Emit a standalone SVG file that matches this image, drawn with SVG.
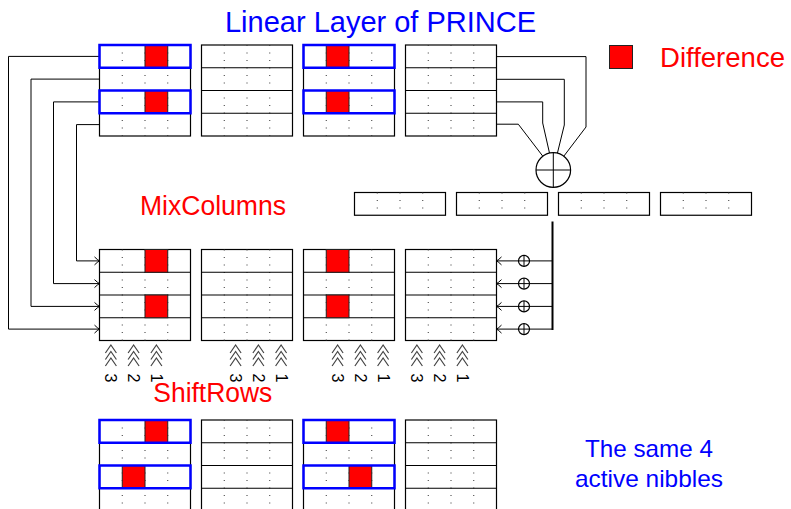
<svg xmlns="http://www.w3.org/2000/svg" xmlns:xlink="http://www.w3.org/1999/xlink" width="791" height="509" viewBox="0 0 791 509">
  <style>
    .cell { fill: #fff; stroke: #000; stroke-width: 1.2; }
    .rowline { fill: none; stroke: #000; stroke-width: 1.2; }
    .dot { fill: none; stroke: #333; stroke-width: 1; stroke-dasharray: 1 6.5; }
    .diff { fill: #ff0000; stroke: #222; stroke-width: 1; }
    .active { fill: none; stroke: #0000ff; stroke-width: 2.5; }
    .wire { fill: none; stroke: #000; stroke-width: 1; }
    .bus { fill: none; stroke: #000; stroke-width: 2; }
    .xor { fill: #fff; stroke: #000; stroke-width: 1.2; }
    .shift { fill: none; stroke: #444; stroke-width: 1.2; }
    .num { font-family: "Liberation Sans", Arial, sans-serif; font-size: 16px; fill: #000; }
    .red { font-family: "Liberation Sans", Arial, sans-serif; fill: #ff0000; }
    .blue { font-family: "Liberation Sans", Arial, sans-serif; fill: #0000ff; }
  </style>
  <defs>
    <!-- 4x4 nibble state: four rows, dotted column separators -->
    <g id="grid">
      <rect class="cell" x="0" y="0" width="91" height="91"/>
      <path class="dot" d="M22.75,0V91M45.5,0V91M68.25,0V91"/>
      <path class="rowline" d="M0,22.75H91M0,45.5H91M0,68.25H91"/>
    </g>
    <!-- one 16-bit row word -->
    <g id="word">
      <rect class="cell" x="0" y="0" width="91" height="22.75"/>
      <path class="dot" d="M22.75,0V22.75M45.5,0V22.75M68.25,0V22.75"/>
    </g>
    <!-- rotation marker: three stacked chevrons -->
    <g id="chev">
      <path class="shift" d="M-5.5,8 L0,0 L5.5,8M-5.5,14.5 L0,6.5 L5.5,14.5M-5.5,21 L0,13 L5.5,21"/>
    </g>
    <g id="sxor">
      <circle class="xor" cx="0" cy="0" r="5.5"/>
      <path class="wire" d="M-5.5,0H5.5M0,-5.5V5.5"/>
    </g>
    <marker id="arr" viewBox="-7 -5 9 10" refX="0" refY="0" markerWidth="9" markerHeight="10" markerUnits="userSpaceOnUse" orient="auto">
      <path d="M-5,-4 Q-2,-1 0,0 Q-2,1 -5,4" fill="none" stroke="#000" stroke-width="1"/>
    </marker>
  </defs>

  <!-- titles and legend -->
  <text class="blue" x="225" y="31.7" font-size="29" textLength="311" lengthAdjust="spacingAndGlyphs">Linear Layer of PRINCE</text>
  <g id="legend">
    <rect class="diff" x="609.5" y="45.5" width="23" height="23"/>
    <text class="red" x="660" y="67.3" font-size="28" textLength="125" lengthAdjust="spacingAndGlyphs">Difference</text>
  </g>
  <text class="red" x="140" y="214.7" font-size="27" textLength="146" lengthAdjust="spacingAndGlyphs">MixColumns</text>

  <!-- connectors -->
  <g id="connectors">
    <!-- reversed row wiring on the left -->
    <path class="wire" marker-end="url(#arr)" d="M99.5,56.4H8.5V329.1H99.5"/>
    <path class="wire" marker-end="url(#arr)" d="M99.5,79.1H31V306.4H99.5"/>
    <path class="wire" marker-end="url(#arr)" d="M99.5,101.9H53.5V283.6H99.5"/>
    <path class="wire" marker-end="url(#arr)" d="M99.5,124.6H76.5V260.9H99.5"/>
    <!-- rows of the last column into the big XOR -->
    <path class="wire" d="M496.5,56.6H586V127L563.8,156.2"/>
    <path class="wire" d="M496.5,79.3H564.3V125L557.4,153.2"/>
    <path class="wire" d="M496.5,101.9H542.7V123L549.5,153.1"/>
    <path class="wire" d="M496.5,124.2H518.3L542.8,156.2"/>
    <!-- feedback bus to the last column -->
    <path class="bus" d="M552.5,221.5V330"/>
    <path class="wire" marker-end="url(#arr)" d="M552.5,260.9H496.5"/>
    <path class="wire" marker-end="url(#arr)" d="M552.5,283.6H496.5"/>
    <path class="wire" marker-end="url(#arr)" d="M552.5,306.4H496.5"/>
    <path class="wire" marker-end="url(#arr)" d="M552.5,329.1H496.5"/>
  </g>

  <!-- big XOR -->
  <g id="xor-main">
    <circle class="xor" cx="553.3" cy="170" r="17.3"/>
    <path class="wire" d="M536,170H570.6M553.3,152.7V187.3"/>
  </g>
  <g id="xor-rows">
    <use xlink:href="#sxor" x="524" y="260.9"/>
    <use xlink:href="#sxor" x="524" y="283.6"/>
    <use xlink:href="#sxor" x="524" y="306.4"/>
    <use xlink:href="#sxor" x="524" y="329.1"/>
  </g>

  <!-- row words -->
  <g id="words">
    <use xlink:href="#word" x="354.5" y="192.5"/>
    <use xlink:href="#word" x="456.5" y="192.5"/>
    <use xlink:href="#word" x="558.5" y="192.5"/>
    <use xlink:href="#word" x="660.5" y="192.5"/>
  </g>

  <!-- input state -->
  <g id="in-0">
    <use xlink:href="#grid" x="99.5" y="45"/>
    <rect class="diff" x="144.99" y="45" width="22.75" height="22.75"/>
    <rect class="diff" x="144.99" y="90.5" width="22.75" height="22.75"/>
    <rect class="active" x="99.5" y="45" width="91" height="22.75"/>
    <rect class="active" x="99.5" y="90.5" width="91" height="22.75"/>
  </g>
  <g id="in-1"><use xlink:href="#grid" x="201.5" y="45"/></g>
  <g id="in-2">
    <use xlink:href="#grid" x="303.5" y="45"/>
    <rect class="diff" x="326.25" y="45" width="22.75" height="22.75"/>
    <rect class="diff" x="326.25" y="90.5" width="22.75" height="22.75"/>
    <rect class="active" x="303.5" y="45" width="91" height="22.75"/>
    <rect class="active" x="303.5" y="90.5" width="91" height="22.75"/>
  </g>
  <g id="in-3"><use xlink:href="#grid" x="405.5" y="45"/></g>

  <!-- after MixColumns -->
  <g id="mc-0">
    <use xlink:href="#grid" x="99.5" y="249.5"/>
    <rect class="diff" x="144.99" y="249.5" width="22.75" height="22.75"/>
    <rect class="diff" x="144.99" y="295" width="22.75" height="22.75"/>
  </g>
  <g id="mc-1"><use xlink:href="#grid" x="201.5" y="249.5"/></g>
  <g id="mc-2">
    <use xlink:href="#grid" x="303.5" y="249.5"/>
    <rect class="diff" x="326.25" y="249.5" width="22.75" height="22.75"/>
    <rect class="diff" x="326.25" y="295" width="22.75" height="22.75"/>
  </g>
  <g id="mc-3"><use xlink:href="#grid" x="405.5" y="249.5"/></g>

  <!-- row rotations -->
  <g id="rotations">
    <use xlink:href="#chev" x="110.9" y="345"/>
    <use xlink:href="#chev" x="133.6" y="345"/>
    <use xlink:href="#chev" x="156.4" y="345"/>
    <use xlink:href="#chev" x="235.6" y="345"/>
    <use xlink:href="#chev" x="258.4" y="345"/>
    <use xlink:href="#chev" x="281.1" y="345"/>
    <use xlink:href="#chev" x="337.6" y="345"/>
    <use xlink:href="#chev" x="360.4" y="345"/>
    <use xlink:href="#chev" x="383.1" y="345"/>
    <use xlink:href="#chev" x="416.9" y="345"/>
    <use xlink:href="#chev" x="439.6" y="345"/>
    <use xlink:href="#chev" x="462.4" y="345"/>
    <g class="num" text-anchor="middle">
      <text x="110.9" y="383.6" transform="rotate(90 110.9 378)">3</text>
      <text x="133.6" y="383.6" transform="rotate(90 133.6 378)">2</text>
      <text x="156.4" y="383.6" transform="rotate(90 156.4 378)">1</text>
      <text x="235.6" y="383.6" transform="rotate(90 235.6 378)">3</text>
      <text x="258.4" y="383.6" transform="rotate(90 258.4 378)">2</text>
      <text x="281.1" y="383.6" transform="rotate(90 281.1 378)">1</text>
      <text x="337.6" y="383.6" transform="rotate(90 337.6 378)">3</text>
      <text x="360.4" y="383.6" transform="rotate(90 360.4 378)">2</text>
      <text x="383.1" y="383.6" transform="rotate(90 383.1 378)">1</text>
      <text x="416.9" y="383.6" transform="rotate(90 416.9 378)">3</text>
      <text x="439.6" y="383.6" transform="rotate(90 439.6 378)">2</text>
      <text x="462.4" y="383.6" transform="rotate(90 462.4 378)">1</text>
    </g>
  </g>
  <text class="red" x="153.3" y="401.7" font-size="27" textLength="119" lengthAdjust="spacingAndGlyphs">ShiftRows</text>

  <!-- after ShiftRows -->
  <g id="sr-0">
    <use xlink:href="#grid" x="99.5" y="420"/>
    <rect class="diff" x="144.99" y="420" width="22.75" height="22.75"/>
    <rect class="diff" x="122.25" y="465.5" width="22.75" height="22.75"/>
    <rect class="active" x="99.5" y="420" width="91" height="22.75"/>
    <rect class="active" x="99.5" y="465.5" width="91" height="22.75"/>
  </g>
  <g id="sr-1"><use xlink:href="#grid" x="201.5" y="420"/></g>
  <g id="sr-2">
    <use xlink:href="#grid" x="303.5" y="420"/>
    <rect class="diff" x="326.25" y="420" width="22.75" height="22.75"/>
    <rect class="diff" x="349" y="465.5" width="22.75" height="22.75"/>
    <rect class="active" x="303.5" y="420" width="91" height="22.75"/>
    <rect class="active" x="303.5" y="465.5" width="91" height="22.75"/>
  </g>
  <g id="sr-3"><use xlink:href="#grid" x="405.5" y="420"/></g>

  <g id="note" class="blue" font-size="24" text-anchor="middle">
    <text x="649" y="456.7" textLength="128" lengthAdjust="spacingAndGlyphs">The same 4</text>
    <text x="649" y="486.7" textLength="148" lengthAdjust="spacingAndGlyphs">active nibbles</text>
  </g>
</svg>
